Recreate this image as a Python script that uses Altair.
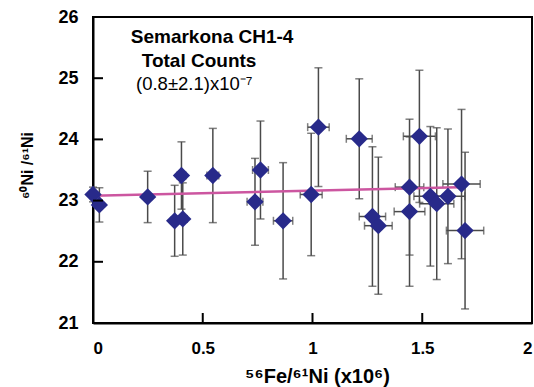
import altair as alt
import pandas as pd

# --- data ---
fe_ni = [0.0, 0.029, 0.249, 0.372, 0.409, 0.403, 0.546, 0.738, 0.763, 0.866, 0.994, 1.027,
         1.213, 1.273, 1.300, 1.442, 1.442, 1.487, 1.537, 1.566, 1.617, 1.679, 1.695]
ni_ratio = [23.10, 22.93, 23.06, 22.67, 22.70, 23.41, 23.41, 22.98, 23.50, 22.67, 23.10, 24.20,
            24.01, 22.74, 22.59, 23.22, 22.82, 24.05, 23.07, 22.95, 23.07, 23.27, 22.51]
y_err = [0.12, 0.28, 0.42, 0.58, 0.59, 0.55, 0.77, 0.71, 0.80, 0.95, 1.00, 0.97,
         0.98, 1.14, 1.12, 1.11, 1.22, 1.08, 1.14, 1.24, 1.10, 1.22, 1.28]
x_err = [0.0, 0.002, 0.012, 0.018, 0.02, 0.02, 0.027, 0.036, 0.036, 0.044, 0.05, 0.049,
         0.059, 0.06, 0.063, 0.065, 0.07, 0.073, 0.075, 0.078, 0.077, 0.085, 0.085]

fit_x = [0.0, 1.665]
fit_y = [23.08, 23.22]

x_ticks = [0, 0.5, 1, 1.5, 2]
y_ticks = [21, 22, 23, 24, 25, 26]
x_inner_ticks = [0.5, 1, 1.5]
y_inner_ticks = [22, 23, 24, 25]

ann_text = ["Semarkona CH1-4", "Total Counts", "(0.8±2.1)x10⁻⁷"]
ann_x = [0.172, 0.222, 0.196]
ann_y = [25.58, 25.18, 24.80]
ann_weight = ["bold", "bold", "normal"]

W, H = 439, 306
FONT = "Liberation Sans"
NAVY = "#282a8a"
BAR = "#4a4a4a"

df = pd.DataFrame({"x": fe_ni, "y": ni_ratio, "ye": y_err, "xe": x_err})
df["ylo"] = df["y"] - df["ye"]
df["yhi"] = df["y"] + df["ye"]
df["xlo"] = df["x"] - df["xe"]
df["xhi"] = df["x"] + df["xe"]

xs = alt.Scale(domain=[0, 2], nice=False)
ys = alt.Scale(domain=[21, 26], nice=False, zero=False)

xaxis = alt.Axis(values=x_ticks, labelExpr="datum.value", ticks=False, tickSize=0,
                 grid=False, domainColor="black", domainWidth=2, labelPadding=17,
                 labelFontSize=17, labelFont=FONT, labelFontWeight="bold", labelColor="black",
                 title="⁵⁶Fe/⁶¹Ni (x10⁶)", titleFont=FONT, titleFontSize=20,
                 titleFontWeight="bold", titleColor="black", titlePadding=10,
                 titleX=224, titleAnchor="middle")
yaxis = alt.Axis(values=y_ticks, format="d", ticks=False, tickSize=0, grid=False,
                 domainColor="black", domainWidth=2, labelPadding=15,
                 labelFontSize=18, labelFont=FONT, labelFontWeight="bold", labelColor="black",
                 title="⁶⁰Ni /⁶¹Ni", titleFont=FONT, titleFontSize=16,
                 titleFontWeight="bold", titleColor="black",
                 titleX=-66, titleY=148, titleAngle=270, titleAlign="center",
                 titleBaseline="middle")

base = alt.Chart(df)

hbars = base.mark_rule(color=BAR, strokeWidth=1.5).encode(
    x=alt.X("xlo:Q", scale=xs, axis=xaxis), x2="xhi:Q",
    y=alt.Y("y:Q", scale=ys, axis=yaxis))
hcap_lo = base.mark_tick(color=BAR, orient="vertical", size=8, thickness=1.5).encode(
    x=alt.X("xlo:Q", scale=xs), y=alt.Y("y:Q", scale=ys))
hcap_hi = base.mark_tick(color=BAR, orient="vertical", size=8, thickness=1.5).encode(
    x=alt.X("xhi:Q", scale=xs), y=alt.Y("y:Q", scale=ys))

vbars = base.mark_rule(color=BAR, strokeWidth=1.5).encode(
    x=alt.X("x:Q", scale=xs), y=alt.Y("ylo:Q", scale=ys), y2="yhi:Q")
vcap_lo = base.mark_tick(color=BAR, orient="horizontal", size=8, thickness=1.5).encode(
    x=alt.X("x:Q", scale=xs), y=alt.Y("ylo:Q", scale=ys))
vcap_hi = base.mark_tick(color=BAR, orient="horizontal", size=8, thickness=1.5).encode(
    x=alt.X("x:Q", scale=xs), y=alt.Y("yhi:Q", scale=ys))

fit = alt.Chart(pd.DataFrame({"x": fit_x, "y": fit_y})).mark_line(
    color="#cc56a0", strokeWidth=2.5).encode(
    x=alt.X("x:Q", scale=xs), y=alt.Y("y:Q", scale=ys))

pts = base.mark_point(shape="diamond", filled=True, size=300, color=NAVY, opacity=1).encode(
    x=alt.X("x:Q", scale=xs), y=alt.Y("y:Q", scale=ys))

ann_df = pd.DataFrame({"t": ann_text, "x": ann_x, "y": ann_y, "w": ann_weight})
ann_bold = alt.Chart(ann_df[ann_df.w == "bold"]).mark_text(
    align="left", baseline="alphabetic", font=FONT, fontSize=19, fontWeight="bold",
    color="black").encode(x=alt.X("x:Q", scale=xs), y=alt.Y("y:Q", scale=ys), text="t:N")
ann_norm = alt.Chart(ann_df[ann_df.w == "normal"]).mark_text(
    align="left", baseline="alphabetic", font=FONT, fontSize=18.5, fontWeight="normal",
    color="black").encode(x=alt.X("x:Q", scale=xs), y=alt.Y("y:Q", scale=ys), text="t:N")

yt = alt.Chart(pd.DataFrame({"v": y_inner_ticks})).mark_rule(color="black", strokeWidth=2).encode(
    y=alt.Y("v:Q", scale=ys), x=alt.value(0), x2=alt.value(10))
xt = alt.Chart(pd.DataFrame({"v": x_inner_ticks})).mark_rule(color="black", strokeWidth=2).encode(
    x=alt.X("v:Q", scale=xs), y=alt.value(H), y2=alt.value(H - 10))

chart = alt.layer(
    hbars, hcap_lo, hcap_hi, vbars, vcap_lo, vcap_hi, fit, pts, ann_bold, ann_norm, yt, xt
).properties(
    width=W, height=H,
    autosize=alt.AutoSizeParams(type="none"),
    padding={"left": 93, "top": 17, "right": 2, "bottom": 64},
    background="white",
).configure_view(stroke="black", strokeWidth=2)

chart.save("out.html", embed_options={"renderer": "svg", "actions": False})
